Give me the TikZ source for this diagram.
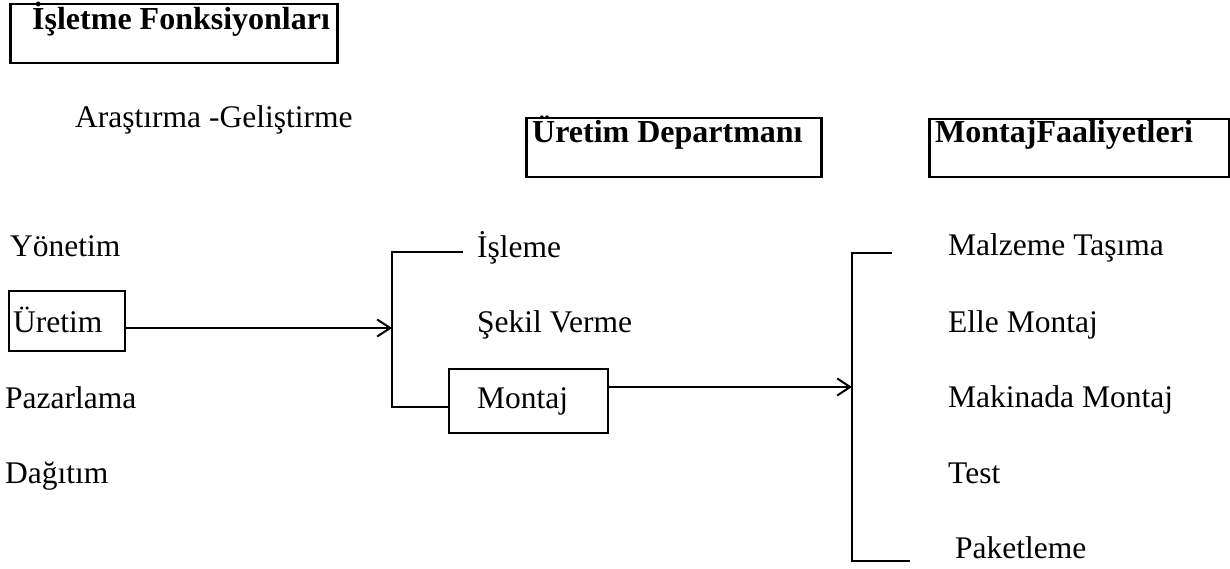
\documentclass[tikz,border=0pt]{standalone}
\usepackage{fontspec}
\setmainfont{Liberation Serif}
\usetikzlibrary{arrows.meta}
\begin{document}
\begin{tikzpicture}[x=1pt,y=-1pt,
  lbl/.style={anchor=base west,inner sep=0pt,font=\fontsize{31.5}{37}\selectfont},
  hdr/.style={anchor=base west,inner sep=0pt,font=\fontsize{32}{38}\selectfont\bfseries},
  frame/.style={draw,line width=2.5pt,anchor=north west,inner sep=0pt},
  sbox/.style={draw,line width=1.8pt,anchor=north west,inner sep=0pt},
  conn/.style={line width=2.2pt},
  arr/.style={line width=2.2pt,-{Straight Barb[length=13pt,width=17pt,line width=2pt]}}]
\useasboundingbox (0,0) rectangle (1230,569);
% header boxes
\node[frame,minimum width=327pt,minimum height=59pt] (fbox) at (9,3) {};
\node[hdr] (ftitle) at (32,30) {İşletme Fonksiyonları};
\node[frame,minimum width=295pt,minimum height=59pt] (ubox) at (525,117) {};
\node[hdr] (utitle) at (532,143) {Üretim Departmanı};
\node[frame,minimum width=300pt,minimum height=58pt] (mbox) at (928,118) {};
\node[hdr] (mtitle) at (935,143) {MontajFaaliyetleri};
\node[lbl] (arge) at (75,128) {Araştırma -Geliştirme};
% left column
\node[lbl] (yon) at (10,256) {Yönetim};
\node[sbox,minimum width=116pt,minimum height=60pt] (uretbox) at (8,290) {};
\node[lbl] (uret) at (13,332) {Üretim};
\node[lbl] (paz) at (5,408) {Pazarlama};
\node[lbl] (dag) at (5,483) {Dağıtım};
% middle column
\node[lbl] (isl) at (477,257) {İşleme};
\node[lbl] (sek) at (477,332) {Şekil Verme};
\node[sbox,minimum width=159pt,minimum height=64pt] (montbox) at (448,368) {};
\node[lbl] (mont) at (477,408) {Montaj};
% right column
\node[lbl] (malz) at (948,255) {Malzeme Taşıma};
\node[lbl] (elle) at (948,332) {Elle Montaj};
\node[lbl] (mak) at (948,407) {Makinada Montaj};
\node[lbl] (test) at (948,483) {Test};
\node[lbl] (pak) at (955,558) {Paketleme};
% bracket 1
\coordinate (b1t) at (392,252);
\coordinate (b1b) at (392,407);
\coordinate (b1m) at (392,328);
\coordinate (b1e) at (463,252);
\draw[conn] (b1e) -- (b1t) -- (b1b) -- (montbox.west |- b1b);
\draw[arr] (uretbox.east |- b1m) -- (b1m);
% bracket 2
\coordinate (b2t) at (852,253);
\coordinate (b2b) at (852,561);
\coordinate (b2m) at (852,387);
\coordinate (b2e) at (892,253);
\coordinate (b2f) at (910,561);
\draw[conn] (b2e) -- (b2t) -- (b2b) -- (b2f);
\draw[arr] (montbox.east |- b2m) -- (b2m);
\end{tikzpicture}
\end{document}
